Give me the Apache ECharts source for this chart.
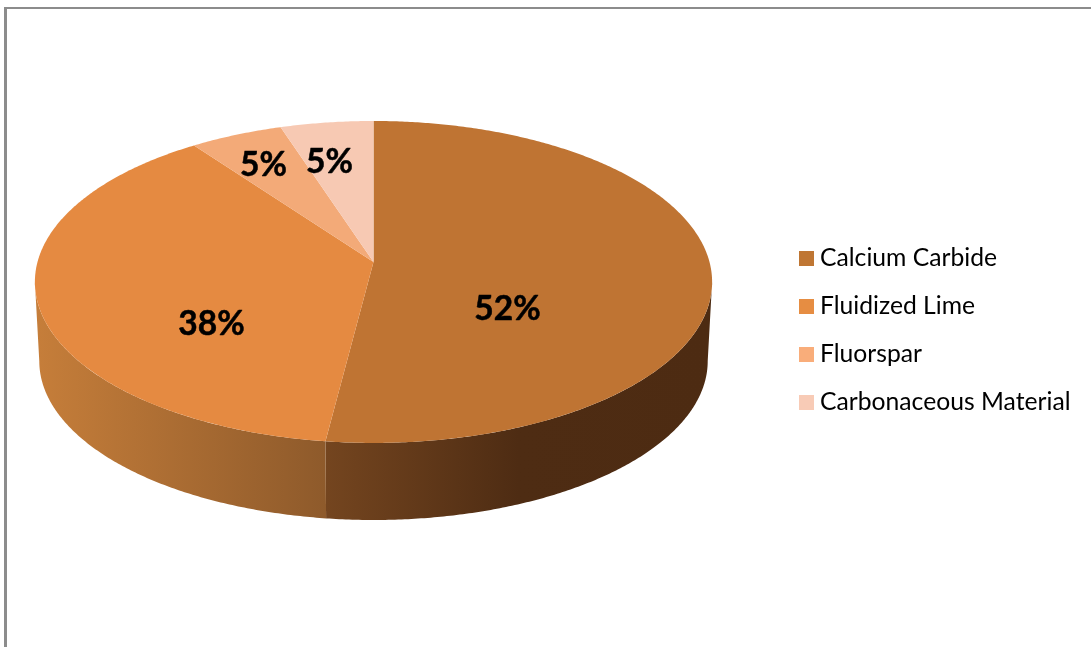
<!DOCTYPE html>
<html>
<head>
<meta charset="utf-8">
<style>html,body{margin:0;padding:0;background:#fff}#c{width:1091px;height:647px}</style>
<script src="https://cdn.jsdelivr.net/npm/echarts@6/dist/echarts.min.js"></script>
</head>
<body>
<div id="c"></div>
<script>
const categories = ['Calcium Carbide', 'Fluidized Lime', 'Fluorspar', 'Carbonaceous Material'];
const shares = [52, 38, 5, 5];

const topColors = ['#bf7433', '#e58a41', '#f3aa78', '#f7c9b3'];
const legendColors = ['#bf7633', '#e68d42', '#f9ad7a', '#f8cbb6'];
const wallStops = [
  [[0, '#74451f'], [0.5, '#4e2c13'], [1, '#4d2b12']],
  [[0, '#c67e3a'], [1, '#8e5a2b']],
  null,
  null
];
const labelOffsets = [[134, 47], [-162, 62], [-110, -97], [-44, -100]];

// Perspective disc: apex of the slices, half-width, depth scale, tilt, wall drop.
const disc = { x: 373.5, y: 262, b: 336, a: 158.5, k: 0.124, wallScale: 0.987, wallDrop: 79.4 };
const total = shares.reduce((s, v) => s + v, 0);
// The wall is only visible between the two silhouette tangents of the disc.
const tangentTurn = Math.acos(-disc.k) / (2 * Math.PI);

function project(turn, scale, drop) {
  const t = turn * 2 * Math.PI;
  const X = Math.sin(t), Y = -Math.cos(t), w = 1 - disc.k * Y;
  return [disc.x + disc.b * scale * X / w, disc.y + drop + disc.a * scale * Y / w];
}
function arc(from, to, scale, drop) {
  const n = Math.max(2, Math.ceil((to - from) * 720));
  const pts = [];
  for (let i = 0; i <= n; i++) pts.push(project(from + (to - from) * i / n, scale, drop));
  return pts;
}

function renderSlice(params, api) {
  const i = params.seriesIndex;
  let before = 0;
  for (let j = 0; j < i; j++) before += shares[j];
  const from = before / total, to = (before + api.value(0)) / total;
  const children = [];
  const wallFrom = Math.max(from, tangentTurn), wallTo = Math.min(to, 1 - tangentTurn);
  if (wallStops[i] && wallTo > wallFrom) {
    const upper = arc(wallFrom, wallTo, 1, 0);
    const lower = arc(wallFrom, wallTo, disc.wallScale, disc.wallDrop).reverse();
    children.push({
      type: 'polygon',
      z2: 1,
      shape: { points: upper.concat(lower) },
      style: {
        fill: new echarts.graphic.LinearGradient(0, 0, 1, 0,
          wallStops[i].map(s => ({ offset: s[0], color: s[1] })))
      }
    });
  }
  children.push({
    type: 'polygon',
    z2: 2,
    shape: { points: [[disc.x, disc.y]].concat(arc(from, to, 1, 0)) },
    style: { fill: topColors[i] }
  });
  children.push({
    type: 'text',
    z2: 3,
    style: {
      text: Math.round(api.value(0) / total * 100) + '%',
      x: disc.x + labelOffsets[i][0],
      y: disc.y + labelOffsets[i][1],
      align: 'center',
      verticalAlign: 'middle',
      fill: '#000',
      stroke: '#000',
      lineWidth: 0.5,
      font: 'bold 33.5px Lato'
    }
  });
  return { type: 'group', children };
}

const chart = echarts.init(document.getElementById('c'), null, { renderer: 'canvas' });
chart.setOption({
  animation: false,
  backgroundColor: '#ffffff',
  legend: {
    orient: 'vertical',
    left: 799,
    top: 246,
    padding: 0,
    align: 'left',
    itemWidth: 15,
    itemHeight: 15,
    itemGap: 23,
    icon: 'rect',
    selectedMode: false,
    data: categories,
    textStyle: { fontFamily: 'Lato', fontSize: 24.7, color: '#000', padding: [0, 0, 0, 1] }
  },
  graphic: [
    { type: 'rect', z: 10, shape: { x: 4, y: 7, width: 1087, height: 2 }, style: { fill: '#8c8c8c' } },
    { type: 'rect', z: 10, shape: { x: 4, y: 7, width: 3, height: 640 }, style: { fill: '#8c8c8c' } }
  ],
  series: categories.map((name, i) => ({
    type: 'custom',
    name,
    coordinateSystem: 'none',
    silent: true,
    itemStyle: { color: legendColors[i] },
    renderItem: renderSlice,
    data: [shares[i]]
  }))
});
</script>
</body>
</html>
